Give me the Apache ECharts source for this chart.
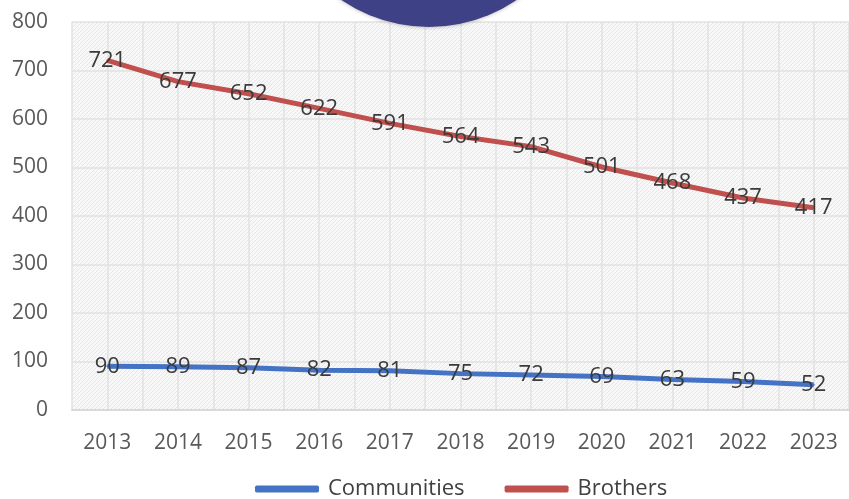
<!DOCTYPE html>
<html>
<head>
<meta charset="utf-8">
<script src="https://cdn.jsdelivr.net/npm/echarts@6/dist/echarts.min.js"></script>
<style>
  html, body { margin: 0; padding: 0; background: #fff; }
  #main { width: 849px; height: 499px; }
</style>
</head>
<body>
<div id="main"></div>
<script>
var years = ['2013', '2014', '2015', '2016', '2017', '2018', '2019', '2020', '2021', '2022', '2023'];
var communities = [90, 89, 87, 82, 81, 75, 72, 69, 63, 59, 52];
var brothers = [721, 677, 652, 622, 591, 564, 543, 501, 468, 437, 417];

// hatched background for the plot area
var hatch = document.createElement('canvas');
hatch.width = 4;
hatch.height = 4;
var hc = hatch.getContext('2d');
hc.fillStyle = '#f8f8f8';
hc.fillRect(0, 0, 4, 4);
hc.strokeStyle = '#e6e6e6';
hc.lineWidth = 1;
hc.beginPath();
hc.moveTo(0, 4); hc.lineTo(4, 0);
hc.moveTo(-2, 2); hc.lineTo(2, -2);
hc.moveTo(2, 6); hc.lineTo(6, 2);
hc.stroke();

var chart = echarts.init(document.getElementById('main'));

var font = 'Open Sans';

function lineSeries(name, data, color) {
    return {
        name: name,
        type: 'line',
        data: data,
        color: color,
        symbol: 'circle',
        symbolSize: 2,
        itemStyle: { color: color },
        lineStyle: { width: 5, color: color },
        label: {
            show: true,
            position: 'inside',
            fontFamily: font,
            fontSize: 22,
            color: '#3a3a3a'
        },
        z: 3
    };
}

var option = {
    backgroundColor: '#fff',
    animation: false,
    grid: {
        left: 72,
        right: -9,
        top: 22,
        bottom: 89,
        show: true,
        borderWidth: 0,
        backgroundColor: { image: hatch, repeat: 'repeat' }
    },
    legend: {
        bottom: -6,
        left: 250,
        itemWidth: 64,
        itemHeight: 7,
        itemGap: 40,
        icon: 'roundRect',
        textStyle: { fontFamily: font, fontSize: 22, color: '#404040', padding: [0, 0, 0, 4] },
        data: ['Communities', 'Brothers']
    },
    xAxis: [{
        type: 'category',
        data: years,
        boundaryGap: true,
        axisLine: { lineStyle: { color: '#d9d9d9', width: 2 } },
        axisTick: { show: false },
        splitLine: { show: false },
        axisLabel: { fontFamily: font, fontSize: 21, color: '#595959', margin: 23 }
    }, {
        type: 'value',
        min: 0,
        max: 22,
        interval: 1,
        position: 'bottom',
        axisLine: { show: false },
        axisTick: { show: false },
        axisLabel: { show: false },
        splitLine: { show: true, lineStyle: { color: '#e2e2e2', width: 1.5 } }
    }],
    yAxis: {
        type: 'value',
        min: 0,
        max: 800,
        interval: 100,
        axisLine: { show: false },
        axisTick: { show: false },
        axisLabel: { fontFamily: font, fontSize: 21, color: '#595959', margin: 24 },
        splitLine: { lineStyle: { color: '#e2e2e2', width: 1.5 } }
    },
    series: [
        lineSeries('Communities', communities, '#4472c4'),
        lineSeries('Brothers', brothers, '#c0504d')
    ],
    graphic: [{
        type: 'circle',
        shape: { cx: 429, cy: -128, r: 155 },
        style: {
            fill: '#3f4186',
            shadowBlur: 4,
            shadowColor: 'rgba(0,0,0,0.3)'
        },
        z: 100
    }]
};

chart.setOption(option);
</script>
</body>
</html>
